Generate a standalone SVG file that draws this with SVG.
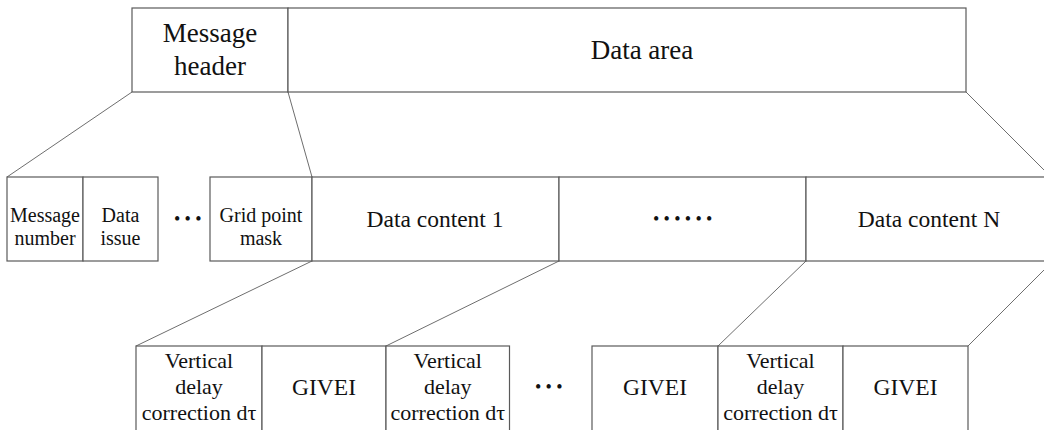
<svg xmlns="http://www.w3.org/2000/svg" width="1044" height="430" viewBox="0 0 1044 430">
<style>
.box{fill:#fff;stroke:#5a5a5a;stroke-width:1.2}
.con{stroke:#6e6e6e;stroke-width:1;fill:none}
text{font-family:"Liberation Serif","Times New Roman",serif;fill:#111;text-anchor:middle}
.t1{font-size:27px}
.t2{font-size:20px}
.t3{font-size:23.5px}
.t4{font-size:22px}
.dots{font-size:18px;letter-spacing:4.3px;text-anchor:start}
</style>
<rect width="1044" height="430" fill="#fff"/>
<g id="connectors">
<line class="con" x1="132" y1="92" x2="7" y2="177"/>
<line class="con" x1="288" y1="92" x2="312" y2="177"/>
<line class="con" x1="966" y1="92" x2="1051" y2="177"/>
<line class="con" x1="312" y1="261" x2="136" y2="346"/>
<line class="con" x1="559" y1="261" x2="386" y2="346"/>
<line class="con" x1="806" y1="261" x2="718" y2="346"/>
<line class="con" x1="1053" y1="261" x2="968" y2="346"/>
</g>
<g id="message-header">
<rect class="box" x="132" y="8" width="156" height="84"/>
<text class="t1" x="210" y="42">Message</text>
<text class="t1" x="210" y="75">header</text>
</g>
<g id="data-area">
<rect class="box" x="288" y="8" width="678" height="84"/>
<text class="t1" x="642" y="59">Data area</text>
</g>
<g id="message-number">
<rect class="box" x="7" y="177" width="76" height="84"/>
<text class="t2" x="45" y="222">Message</text>
<text class="t2" x="45" y="245">number</text>
</g>
<g id="data-issue">
<rect class="box" x="83" y="177" width="75" height="84"/>
<text class="t2" x="120.5" y="222">Data</text>
<text class="t2" x="120.5" y="245">issue</text>
</g>
<g id="dots-mid-left">
<text class="dots" x="174" y="225">•••</text>
</g>
<g id="grid-point-mask">
<rect class="box" x="210" y="177" width="102" height="84"/>
<text class="t2" x="261" y="222">Grid point</text>
<text class="t2" x="261" y="245">mask</text>
</g>
<g id="data-content-1">
<rect class="box" x="312" y="177" width="247" height="84"/>
<text class="t3" x="435" y="227">Data content 1</text>
</g>
<g id="data-content-dots">
<rect class="box" x="559" y="177" width="247" height="84"/>
<text class="dots" x="653" y="225">••••••</text>
</g>
<g id="data-content-n">
<rect class="box" x="806" y="177" width="260" height="84"/>
<text class="t3" x="929" y="227">Data content N</text>
</g>
<g id="vdc-1">
<rect class="box" x="136" y="346" width="126" height="100"/>
<text class="t4" x="199" y="368">Vertical</text>
<text class="t4" x="199" y="394">delay</text>
<text class="t4" x="199" y="420">correction dτ</text>
</g>
<g id="givei-1">
<rect class="box" x="262" y="346" width="124" height="100"/>
<text class="t3" x="324" y="395">GIVEI</text>
</g>
<g id="vdc-2">
<rect class="box" x="386" y="346" width="123.5" height="100"/>
<text class="t4" x="447.75" y="368">Vertical</text>
<text class="t4" x="447.75" y="394">delay</text>
<text class="t4" x="447.75" y="420">correction dτ</text>
</g>
<g id="dots-bottom">
<text class="dots" x="535" y="393">•••</text>
</g>
<g id="givei-2">
<rect class="box" x="592" y="346" width="126" height="100"/>
<text class="t3" x="655" y="395">GIVEI</text>
</g>
<g id="vdc-3">
<rect class="box" x="718" y="346" width="125" height="100"/>
<text class="t4" x="780.5" y="368">Vertical</text>
<text class="t4" x="780.5" y="394">delay</text>
<text class="t4" x="780.5" y="420">correction dτ</text>
</g>
<g id="givei-3">
<rect class="box" x="843" y="346" width="125" height="100"/>
<text class="t3" x="905.5" y="395">GIVEI</text>
</g>
</svg>
